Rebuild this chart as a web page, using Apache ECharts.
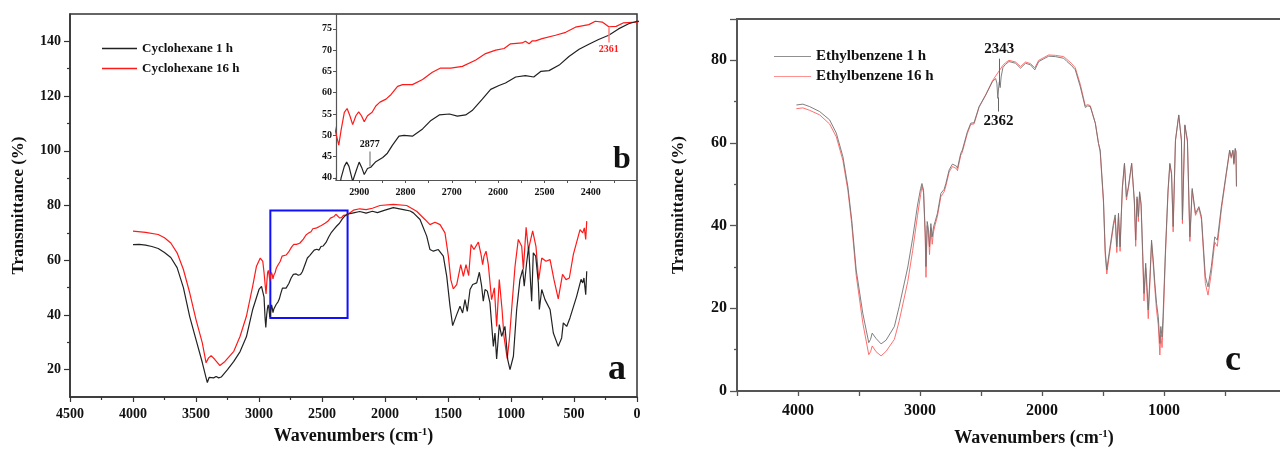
<!DOCTYPE html>
<html><head><meta charset="utf-8">
<script src="https://cdn.jsdelivr.net/npm/echarts@6/dist/echarts.min.js"></script>
<style>html,body{margin:0;padding:0;background:#fff}#c{width:1280px;height:453px}</style>
</head><body><div id="c"></div>
<script>
// ---------- data (wavenumber cm-1, transmittance %) ----------
const cyclohexane1h = [[4000,65.7],[3950,65.8],[3900,65.5],[3850,65.0],[3800,64.3],[3750,62.8],[3700,61.0],[3650,57.3],[3600,50.0],[3550,39.4],[3500,31.0],[3450,22.6],[3420,17.0],[3410,15.3],[3395,17.2],[3380,17.6],[3360,17.0],[3340,17.5],[3320,17.0],[3300,17.3],[3250,20.0],[3200,23.0],[3150,26.6],[3100,32.0],[3050,42.0],[3000,49.3],[2980,50.4],[2970,50.0],[2960,46.5],[2952,39.0],[2946,35.4],[2939,40.0],[2932,42.7],[2927,43.7],[2922,42.7],[2914,39.2],[2907,41.5],[2900,43.7],[2894,42.3],[2889,40.8],[2882,42.2],[2875,42.5],[2864,43.8],[2849,44.8],[2839,45.8],[2828,47.7],[2814,49.8],[2803,50.0],[2785,49.8],[2763,51.5],[2745,53.5],[2727,54.8],[2705,55.0],[2688,54.5],[2670,54.8],[2656,55.8],[2634,58.5],[2616,60.8],[2598,61.7],[2584,62.3],[2562,63.7],[2541,64.0],[2523,63.7],[2508,65.0],[2490,65.2],[2468,66.5],[2447,68.5],[2425,70.2],[2404,71.4],[2383,72.5],[2361,73.5],[2340,75.0],[2318,76.2],[2300,76.8],[2250,77.3],[2200,77.8],[2150,77.2],[2100,77.9],[2060,77.4],[2000,78.3],[1934,79.2],[1854,78.5],[1800,78.0],[1775,77.3],[1722,74.9],[1669,68.8],[1643,63.9],[1616,63.3],[1577,63.9],[1537,61.5],[1510,54.1],[1484,43.2],[1463,36.1],[1431,40.1],[1405,43.2],[1384,40.7],[1365,45.6],[1347,41.3],[1325,49.3],[1304,51.1],[1272,51.7],[1251,55.6],[1233,50.5],[1220,45.0],[1206,49.3],[1188,48.7],[1167,44.4],[1140,28.5],[1127,33.4],[1114,23.9],[1093,36.5],[1074,32.2],[1048,35.8],[1026,23.7],[1008,20.0],[995,19.4],[981,24.9],[955,42.0],[929,52.9],[907,56.6],[895,50.5],[876,59.0],[860,65.0],[844,51.1],[836,45.0],[823,62.7],[804,61.5],[783,51.7],[775,42.0],[756,49.3],[730,45.6],[690,42.0],[664,33.4],[625,28.5],[598,31.6],[585,37.1],[558,35.8],[532,38.9],[479,46.8],[444,53.0],[431,51.7],[421,53.5],[407,47.4],[399,56.0]];
const cyclohexane16h = [[4000,70.6],[3900,70.2],[3800,69.4],[3750,68.2],[3700,66.3],[3650,62.7],[3600,56.6],[3550,48.1],[3500,38.3],[3450,29.8],[3420,22.5],[3400,24.3],[3380,25.1],[3350,23.7],[3310,21.5],[3270,23.0],[3200,26.7],[3150,32.2],[3100,39.5],[3050,50.5],[3020,57.8],[2990,60.8],[2970,59.6],[2960,55.5],[2950,50.4],[2944,47.7],[2939,51.2],[2932,55.4],[2926,56.3],[2920,54.6],[2914,52.5],[2907,54.6],[2901,55.5],[2895,54.6],[2889,53.2],[2882,54.6],[2872,55.4],[2864,56.9],[2855,57.8],[2842,58.5],[2831,59.6],[2817,61.5],[2806,61.9],[2785,61.9],[2763,63.1],[2742,64.8],[2724,65.8],[2702,65.8],[2677,66.2],[2648,67.7],[2627,69.2],[2605,70.0],[2587,70.4],[2573,71.5],[2548,71.7],[2541,72.1],[2533,71.5],[2526,72.2],[2519,72.2],[2505,72.7],[2476,73.5],[2454,74.2],[2433,75.4],[2404,76.0],[2390,76.8],[2375,76.6],[2361,75.5],[2345,75.6],[2330,76.4],[2300,76.6],[2250,78.3],[2200,78.8],[2150,78.5],[2100,79.0],[2040,80.0],[1934,80.4],[1828,80.0],[1749,77.9],[1683,74.9],[1643,73.0],[1603,73.9],[1563,73.0],[1524,70.0],[1497,61.5],[1478,52.9],[1458,49.5],[1431,51.1],[1399,58.4],[1378,54.1],[1357,58.4],[1336,54.4],[1317,65.7],[1294,63.9],[1259,66.6],[1238,62.1],[1225,58.4],[1214,61.5],[1198,63.3],[1180,58.4],[1154,45.6],[1132,49.9],[1114,35.8],[1093,52.9],[1071,42.0],[1056,32.2],[1030,24.0],[1013,31.0],[995,42.0],[968,57.8],[942,67.6],[915,65.1],[902,56.6],[880,72.0],[862,63.9],[828,70.7],[802,65.1],[780,52.9],[756,60.8],[722,59.6],[690,60.2],[659,52.9],[625,45.9],[591,54.8],[563,52.9],[537,53.5],[505,62.1],[452,71.2],[431,70.0],[418,71.8],[407,67.6],[399,74.3]];
const ethylbenzene1h = [[4013,69.2],[3960,69.4],[3904,68.8],[3822,67.6],[3741,65.6],[3686,62.4],[3632,56.7],[3591,49.4],[3560,41.5],[3523,29.3],[3469,18.8],[3420,11.7],[3405,12.5],[3392,14.0],[3360,12.7],[3319,11.4],[3278,12.3],[3210,15.6],[3170,20.5],[3100,30.0],[3060,37.0],[3020,45.0],[2995,49.0],[2984,50.2],[2971,48.6],[2957,38.2],[2951,30.1],[2941,41.0],[2930,39.0],[2922,34.9],[2911,40.5],[2900,37.3],[2889,39.7],[2876,41.0],[2857,43.0],[2829,47.8],[2802,48.8],[2788,50.2],[2761,53.5],[2734,54.9],[2701,54.4],[2693,53.9],[2666,57.5],[2653,58.3],[2612,62.7],[2584,64.8],[2557,64.9],[2516,68.8],[2462,71.6],[2407,74.8],[2380,75.6],[2370,74.5],[2362,70.8],[2355,73.6],[2350,74.8],[2343,73.4],[2335,76.0],[2320,78.3],[2300,79.0],[2271,79.7],[2217,79.3],[2176,78.1],[2135,79.3],[2094,78.9],[2059,77.7],[2027,79.7],[1990,80.3],[1945,81.0],[1890,80.9],[1822,80.5],[1795,79.7],[1760,78.8],[1727,77.7],[1686,73.6],[1645,68.6],[1625,69.0],[1604,68.8],[1563,64.8],[1537,59.9],[1523,58.3],[1496,46.2],[1482,34.1],[1469,29.3],[1450,33.3],[1414,40.6],[1400,42.6],[1387,34.9],[1373,43.0],[1360,34.9],[1351,42.2],[1341,49.4],[1324,55.1],[1308,47.0],[1292,49.4],[1265,55.1],[1243,46.2],[1232,36.5],[1221,47.0],[1210,42.2],[1200,48.2],[1188,45.4],[1175,34.1],[1164,23.6],[1150,30.9],[1142,26.9],[1129,19.6],[1115,27.7],[1102,36.5],[1088,31.7],[1075,26.1],[1061,21.2],[1047,18.0],[1034,11.5],[1026,15.6],[1016,13.1],[1008,18.0],[988,34.1],[967,48.6],[952,55.1],[938,52.7],[925,39.8],[906,60.7],[879,66.8],[857,60.7],[849,41.4],[829,64.4],[808,60.7],[788,37.3],[769,49.0],[742,43.0],[714,44.6],[693,42.2],[661,27.7],[639,25.2],[612,30.1],[584,37.3],[563,36.5],[530,44.6],[490,52.7],[462,58.3],[449,56.7],[435,58.3],[427,55.1],[416,58.7],[410,58.0],[406,49.5]];
const ethylbenzene16h = [[4013,68.3],[3960,68.5],[3904,67.9],[3822,66.8],[3741,64.6],[3686,61.5],[3632,55.8],[3591,48.5],[3560,40.5],[3523,28.0],[3469,16.5],[3420,8.8],[3405,9.5],[3392,10.9],[3360,9.5],[3319,8.5],[3278,9.6],[3210,12.5],[3170,17.0],[3100,26.5],[3060,34.0],[3020,42.5],[2995,47.5],[2984,49.5],[2971,48.0],[2957,37.0],[2951,27.5],[2941,40.0],[2930,37.5],[2922,33.0],[2911,39.5],[2900,35.5],[2889,38.5],[2876,40.2],[2857,42.3],[2829,47.0],[2802,48.2],[2788,49.6],[2761,53.0],[2734,54.3],[2701,53.8],[2693,53.3],[2666,57.0],[2653,57.8],[2612,62.3],[2584,64.5],[2557,64.6],[2516,68.6],[2462,71.6],[2407,75.0],[2380,76.2],[2350,77.5],[2320,78.8],[2300,79.4],[2271,80.0],[2217,79.6],[2176,78.5],[2135,79.6],[2094,79.2],[2059,78.2],[2027,80.0],[1990,80.6],[1945,81.3],[1890,81.2],[1822,80.9],[1795,80.2],[1760,79.3],[1727,78.2],[1686,74.2],[1645,69.0],[1625,69.3],[1604,69.0],[1563,64.8],[1537,59.9],[1523,57.8],[1496,45.5],[1482,33.0],[1469,28.3],[1450,32.5],[1414,40.0],[1400,41.8],[1387,33.5],[1373,42.2],[1360,33.8],[1351,41.5],[1341,49.0],[1324,55.0],[1308,46.2],[1292,49.0],[1265,55.0],[1243,45.5],[1232,35.0],[1221,46.5],[1210,41.0],[1200,47.8],[1188,44.8],[1175,32.5],[1164,21.8],[1150,29.8],[1142,25.0],[1129,17.5],[1115,26.5],[1102,35.8],[1088,30.5],[1075,24.8],[1061,19.5],[1047,16.0],[1034,8.7],[1026,13.5],[1016,10.5],[1008,15.5],[988,33.0],[967,48.0],[952,54.8],[938,52.3],[925,38.5],[906,60.5],[879,66.7],[857,60.5],[849,40.5],[829,64.2],[808,60.3],[788,36.2],[769,48.5],[742,42.5],[714,44.2],[693,41.5],[661,26.0],[639,23.2],[612,28.5],[584,36.0],[563,35.0],[530,43.8],[490,52.3],[462,58.0],[449,56.3],[435,58.0],[427,54.8],[416,58.5],[410,57.8],[406,49.5]];

// tick positions / labels
const mainYLabels = [20,40,60,80,100,120,140];
const mainYMinor = [30,50,70,90,110,130];
const insetYLabels = [40,45,50,55,60,65,70,75];
const insetXLabels = [2400,2500,2600,2700,2800,2900];
const insetXTicks = [2350,2400,2450,2500,2550,2600,2650,2700,2750,2800,2850,2900];
const cYMinor = [10,30,50,70];

// zoom box and peak annotations
const zoomBox = {x1:2910, y1:78.2, x2:2297, y2:38.9};
const peak2877 = {x:2877, y1:42.7, y2:46.2, text:'2877'};
const peak2361 = {x:2361, y1:75.3, y2:71.8, text:'2361'};
const peak2343 = {x:2351, y1:80.4, y2:74.0, text:'2343'};
const peak2362 = {x:2357, y1:71.0, y2:67.6, text:'2362'};

const FONT = "'Liberation Serif','Times New Roman',serif";
const lbl = (size) => ({fontFamily:FONT, fontWeight:'bold', fontSize:size, color:'#111'});
const nameStyle = (size) => ({fontFamily:FONT, fontWeight:'bold', fontSize:size, color:'#111',
  rich:{sup:{fontFamily:FONT, fontWeight:'bold', fontSize:11, color:'#111', verticalAlign:'top', padding:[0,0,6,0]}}});
const plain = v => String(v);

const chart = echarts.init(document.getElementById('c'), null, {renderer:'canvas'});
const option = {
  animation:false,
  backgroundColor:'#fff',
  textStyle:{fontFamily:FONT},
  title:[
    {text:'a', left:603, top:347, textStyle:lbl(36)},
    {text:'b', left:608, top:139, textStyle:lbl(32)},
    {text:'c', left:1220, top:338, textStyle:lbl(36)}
  ],
  legend:[
    {data:['Cyclohexane 1 h','Cyclohexane 16 h'], orient:'vertical', left:97, top:37, icon:'rect',
     itemWidth:35, itemHeight:1.5, itemGap:7, textStyle:lbl(13)},
    {data:['Ethylbenzene 1 h','Ethylbenzene 16 h'], orient:'vertical', left:769, top:44, icon:'rect',
     itemWidth:37, itemHeight:1.2, itemGap:5, textStyle:lbl(15)}
  ],
  grid:[
    {left:70, top:14, width:567, height:383, show:true, borderColor:'#333', borderWidth:1.5, outerBoundsMode:'none'},
    {left:336, top:14, width:301, height:166, outerBoundsMode:'none'},
    {left:737, top:19, width:549, height:372, show:true, borderColor:'#555', borderWidth:1.8, outerBoundsMode:'none'}
  ],
  xAxis:[
    {gridIndex:0, type:'value', min:0, max:4500, inverse:true, interval:500,
     axisLine:{onZero:false, lineStyle:{color:'#333', width:1.5}},
     axisTick:{length:5, lineStyle:{color:'#333', width:1.2}},
     minorTick:{show:true, splitNumber:2, length:3, lineStyle:{color:'#333', width:1.2}},
     axisLabel:{margin:10, formatter:plain, ...lbl(14)}, splitLine:{show:false},
     name:'Wavenumbers (cm{sup|-1})', nameLocation:'middle', nameGap:30, nameTextStyle:nameStyle(18)},
    {gridIndex:1, type:'value', min:2300, max:2950, inverse:true,
     axisLine:{onZero:false, lineStyle:{color:'#555', width:1.2}},
     axisTick:{length:3, customValues:insetXTicks, lineStyle:{color:'#555'}},
     axisLabel:{margin:7, customValues:insetXLabels, formatter:plain, ...lbl(10)}, splitLine:{show:false}},
    {gridIndex:2, type:'value', min:0, max:4500, inverse:true, interval:500,
     axisLine:{onZero:false, lineStyle:{color:'#555', width:1.8}},
     axisTick:{length:5, lineStyle:{color:'#555', width:1.3}},
     axisLabel:{margin:12, ...lbl(16), formatter:v => (v%1000===0 && v>0 && v<4500) ? String(v) : ''},
     splitLine:{show:false},
     name:'Wavenumbers (cm{sup|-1})', nameLocation:'middle', nameGap:38,
     nameTextStyle:Object.assign(nameStyle(18), {padding:[0,0,0,45]})}
  ],
  yAxis:[
    {gridIndex:0, type:'value', min:10, max:150, position:'left',
     axisLine:{onZero:false, lineStyle:{color:'#333', width:1.5}},
     axisTick:{length:6, customValues:mainYLabels, lineStyle:{color:'#333', width:1.2}},
     axisLabel:{margin:9, customValues:mainYLabels, ...lbl(14)}, splitLine:{show:false},
     name:'Transmittance (%)', nameLocation:'middle', nameGap:43, nameTextStyle:nameStyle(17)},
    {gridIndex:0, type:'value', min:10, max:150, position:'left',
     axisLine:{show:false, onZero:false}, axisLabel:{show:false}, splitLine:{show:false},
     axisTick:{length:3, customValues:mainYMinor, lineStyle:{color:'#333', width:1.2}}},
    {gridIndex:1, type:'value', min:39.5, max:78.5, position:'left',
     axisLine:{onZero:false, lineStyle:{color:'#555', width:1.2}},
     axisTick:{length:3, customValues:insetYLabels, lineStyle:{color:'#555'}},
     axisLabel:{margin:4, customValues:insetYLabels, ...lbl(10)}, splitLine:{show:false}},
    {gridIndex:2, type:'value', min:0, max:90, interval:20, position:'left',
     axisLine:{onZero:false, lineStyle:{color:'#555', width:1.8}},
     axisTick:{length:7, lineStyle:{color:'#555', width:1.3}},
     axisLabel:{margin:10, ...lbl(16), formatter:v => v>85 ? '' : String(v)}, splitLine:{show:false},
     name:'Transmittance (%)', nameLocation:'middle', nameGap:50, nameTextStyle:nameStyle(17)},
    {gridIndex:2, type:'value', min:0, max:90, position:'left',
     axisLine:{show:false, onZero:false}, axisLabel:{show:false}, splitLine:{show:false},
     axisTick:{length:3, customValues:cYMinor, lineStyle:{color:'#555', width:1.3}}}
  ],
  series:[
    {name:'Cyclohexane 1 h', type:'line', xAxisIndex:0, yAxisIndex:0, data:cyclohexane1h,
     symbol:'none', z:3, lineStyle:{color:'#222', width:1.2}, itemStyle:{color:'#222'},
     markArea:{silent:true, itemStyle:{color:'rgba(0,0,0,0)', borderColor:'#1010ff', borderWidth:2},
       data:[[{coord:[zoomBox.x1, zoomBox.y1]},{coord:[zoomBox.x2, zoomBox.y2]}]]}},
    {name:'Cyclohexane 16 h', type:'line', xAxisIndex:0, yAxisIndex:0, data:cyclohexane16h,
     symbol:'none', z:2, lineStyle:{color:'#ff1a1a', width:1.2}, itemStyle:{color:'#ff1a1a'}},
    {name:'Cyclohexane 1 h', type:'line', xAxisIndex:1, yAxisIndex:2, data:cyclohexane1h,
     symbol:'none', z:3, lineStyle:{color:'#222', width:1.2}, itemStyle:{color:'#222'},
     markLine:{silent:true, symbol:['none','none'], lineStyle:{color:'#999', width:1.5, type:'solid'},
       label:{show:true, position:'end', distance:2, formatter:peak2877.text, ...lbl(10)},
       data:[[{coord:[peak2877.x, peak2877.y1]},{coord:[peak2877.x, peak2877.y2]}]]}},
    {name:'Cyclohexane 16 h', type:'line', xAxisIndex:1, yAxisIndex:2, data:cyclohexane16h,
     symbol:'none', z:2, lineStyle:{color:'#ff1a1a', width:1.2}, itemStyle:{color:'#ff1a1a'},
     markLine:{silent:true, symbol:['none','none'], lineStyle:{color:'#ff8080', width:1.5, type:'solid'},
       label:{show:true, position:'end', distance:2, formatter:peak2361.text, ...lbl(10), color:'#ff1a1a'},
       data:[[{coord:[peak2361.x, peak2361.y1]},{coord:[peak2361.x, peak2361.y2]}]]}},
    {name:'Ethylbenzene 1 h', type:'line', xAxisIndex:2, yAxisIndex:3, data:ethylbenzene1h,
     symbol:'none', z:3, lineStyle:{color:'#707070', width:0.9}, itemStyle:{color:'#909090'},
     markLine:{silent:true, symbol:['none','none'], lineStyle:{color:'#666', width:1, type:'solid'},
       label:{show:true, distance:2, ...lbl(15)},
       data:[
         [{coord:[peak2343.x, peak2343.y1], label:{position:'start', formatter:peak2343.text}},{coord:[peak2343.x, peak2343.y2]}],
         [{coord:[peak2362.x, peak2362.y1]},{coord:[peak2362.x, peak2362.y2], label:{position:'end', formatter:peak2362.text}}]
       ]}},
    {name:'Ethylbenzene 16 h', type:'line', xAxisIndex:2, yAxisIndex:3, data:ethylbenzene16h,
     symbol:'none', z:2, lineStyle:{color:'#ff6060', width:0.9}, itemStyle:{color:'#ff9090'}}
  ]
};
chart.setOption(option);
</script></body></html>
